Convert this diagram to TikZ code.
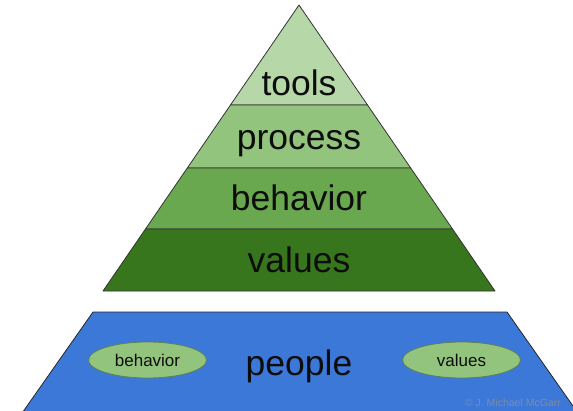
\documentclass[tikz,border=0pt]{standalone}
\usepackage{fontspec}
\setmainfont{Liberation Sans}
\usetikzlibrary{calc,shapes.geometric}
\definecolor{gtools}{HTML}{B6D7A8}
\definecolor{gprocess}{HTML}{93C47D}
\definecolor{gbehavior}{HTML}{6AA84F}
\definecolor{gvalues}{HTML}{38761D}
\definecolor{pblue}{HTML}{3C78D8}
\definecolor{edgegray}{HTML}{333333}
\definecolor{ellline}{HTML}{5E7F52}
\definecolor{copygray}{HTML}{7E8CA6}
\tikzset{
  layer/.style={draw=edgegray, line width=0.8pt, line join=round},
  biglabel/.style={font=\fontsize{35.5}{40}\selectfont, text=black!95, inner sep=0pt, anchor=base},
  smallell/.style={ellipse, draw=ellline, line width=0.8pt, fill=gprocess, minimum width=118pt, minimum height=36pt, inner sep=0pt, font=\fontsize{17}{20}\selectfont, text=black!95},
}
\begin{document}
\begin{tikzpicture}[x=1pt,y=-1pt]
\useasboundingbox (0,0) rectangle (573,410);
\fill[white] (0,0) rectangle (573,410);
\clip (0,0) rectangle (573,410);
% pyramid
\coordinate (A) at (299,5);
\coordinate (BL) at (103,291);
\coordinate (BR) at (495,291);
\coordinate (L1) at ($(A)!0.3497!(BL)$);
\coordinate (R1) at ($(A)!0.3497!(BR)$);
\coordinate (L2) at ($(A)!0.5699!(BL)$);
\coordinate (R2) at ($(A)!0.5699!(BR)$);
\coordinate (L3) at ($(A)!0.7832!(BL)$);
\coordinate (R3) at ($(A)!0.7832!(BR)$);
\path[layer, fill=gtools] (A) -- (R1) -- (L1) -- cycle;
\path[layer, fill=gprocess] (L1) -- (R1) -- (R2) -- (L2) -- cycle;
\path[layer, fill=gbehavior] (L2) -- (R2) -- (R3) -- (L3) -- cycle;
\path[layer, fill=gvalues] (L3) -- (R3) -- (BR) -- (BL) -- cycle;
\node[biglabel] (tools) at (299,95) {tools};
\node[biglabel] (process) at (299,149) {process};
\node[biglabel] (behavior) at (299,210) {behavior};
\node[biglabel] (values) at (299,272) {values};
% base trapezoid
\path[draw=black!85, line width=0.8pt, fill=pblue, line join=round] (20,416) -- (93,312) -- (507,312) -- (580,416);
\node[biglabel] (people) at (299,375) {people};
\node[smallell] (ebehavior) at (147.5,360) {behavior};
\node[smallell] (evalues) at (461.5,360) {values};
\node[font=\fontsize{10.5}{12}\selectfont, text=copygray, anchor=east, inner sep=0pt] (copy) at (561,403) {© J. Michael McGarr};
\end{tikzpicture}
\end{document}
